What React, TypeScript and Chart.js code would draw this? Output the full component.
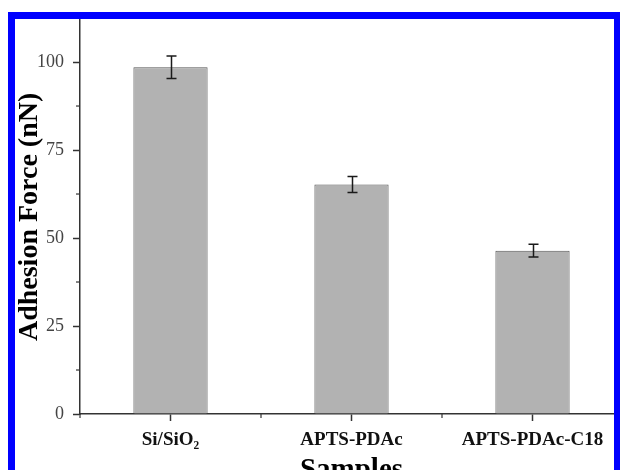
import React, { useEffect, useRef } from 'react';
import { Chart, registerables } from 'chart.js';

Chart.register(...registerables);

const categories = ['Si/SiO₂', 'APTS-PDAc', 'APTS-PDAc-C18'];
const adhesionForce = [98.5, 65.2, 46.4];
const errorValues = [3.2, 2.3, 1.8];
const yTickValues = [0, 25, 50, 75, 100];

const FAMILY = "'Liberation Serif', 'Times New Roman', 'DejaVu Serif', serif";

const extrasPlugin = {
  id: 'extras',
  afterDatasetsDraw(chart: any) {
    const { ctx, scales } = chart;
    const x = scales.x;
    const y = scales.y;
    ctx.save();
    ctx.strokeStyle = '#1a1a1a';
    ctx.lineWidth = 1.5;
    adhesionForce.forEach((v, i) => {
      const px = Math.round(x.getPixelForValue(i)) + 0.5;
      const top = y.getPixelForValue(v + errorValues[i]);
      const bot = y.getPixelForValue(v - errorValues[i]);
      ctx.beginPath();
      ctx.moveTo(px, top);
      ctx.lineTo(px, bot);
      ctx.moveTo(px - 5, top);
      ctx.lineTo(px + 5, top);
      ctx.moveTo(px - 5, bot);
      ctx.lineTo(px + 5, bot);
      ctx.stroke();
    });
    ctx.restore();
  },
  afterDraw(chart: any) {
    const { ctx, scales, chartArea } = chart;
    const x = scales.x;
    const y = scales.y;
    ctx.save();
    ctx.strokeStyle = '#333';
    ctx.lineWidth = 1.2;
    const half = (x.getPixelForValue(1) - x.getPixelForValue(0)) / 2;
    for (let i = 0; i <= categories.length; i++) {
      const px = x.getPixelForValue(0) - half + i * 2 * half;
      ctx.beginPath();
      ctx.moveTo(px, chartArea.bottom);
      ctx.lineTo(px, chartArea.bottom + 4);
      ctx.stroke();
    }
    for (let i = 0; i < yTickValues.length; i++) {
      const next = i + 1 < yTickValues.length ? yTickValues[i + 1] : yTickValues[i] + (yTickValues[1] - yTickValues[0]);
      const mid = (yTickValues[i] + next) / 2;
      if (mid > y.max) continue;
      const py = y.getPixelForValue(mid);
      ctx.beginPath();
      ctx.moveTo(chartArea.left - 4, py);
      ctx.lineTo(chartArea.left, py);
      ctx.stroke();
    }
    ctx.restore();
  },
};

export default function App() {
  const ref = useRef<HTMLCanvasElement | null>(null);

  useEffect(() => {
    if (!ref.current) return;
    const chart = new Chart(ref.current, {
      type: 'bar',
      data: {
        labels: categories,
        datasets: [
          {
            data: adhesionForce,
            backgroundColor: '#b2b2b2',
            borderColor: '#555555',
            borderWidth: 1,
            barPercentage: 0.41,
            categoryPercentage: 1,
          },
        ],
      },
      options: {
        animation: false,
        responsive: false,
        devicePixelRatio: 1,
        layout: { padding: { left: 13, right: 17, top: 19, bottom: 2 } },
        plugins: { legend: { display: false }, tooltip: { enabled: false } },
        scales: {
          x: {
            type: 'category',
            grid: {
              display: true,
              drawOnChartArea: false,
              offset: false,
              tickLength: 7,
              tickColor: '#333',
              tickWidth: 1.5,
            },
            border: { color: '#333', width: 1.5 },
            ticks: {
              color: '#111',
              font: { family: FAMILY, size: 19, weight: 'bold' },
              padding: 8,
              maxRotation: 0,
              autoSkip: false,
            },
            title: {
              display: true,
              text: 'Samples',
              color: '#000',
              font: { family: FAMILY, size: 29, weight: 'bold' },
              padding: 0,
            },
            afterFit: (s: any) => {
              s.height = 74;
            },
          },
          y: {
            min: 0,
            max: 112,
            afterBuildTicks: (s: any) => {
              s.ticks = yTickValues.map((value) => ({ value }));
            },
            grid: {
              display: true,
              drawOnChartArea: false,
              tickLength: 7,
              tickColor: '#333',
              tickWidth: 1.5,
            },
            border: { color: '#333', width: 1.5 },
            ticks: {
              color: '#444',
              font: { family: FAMILY, size: 18 },
              padding: 9,
            },
            title: {
              display: true,
              text: 'Adhesion Force (nN)',
              color: '#000',
              font: { family: FAMILY, size: 28, weight: 'bold' },
              padding: 0,
            },
            afterFit: (s: any) => {
              s.width = 67;
            },
          },
        },
      },
      plugins: [extrasPlugin],
    } as any);
    return () => chart.destroy();
  }, []);

  return (
    <div
      style={{
        position: 'fixed',
        left: 0,
        top: 0,
        width: 620,
        height: 470,
        overflow: 'hidden',
        background: '#fff',
      }}
    >
      <canvas
        ref={ref}
        width={640}
        height={490}
        style={{ position: 'absolute', left: 0, top: 0, width: 640, height: 490, background: '#fff' }}
      />
      <div
        style={{
          position: 'absolute',
          left: 8,
          top: 12,
          width: 612,
          height: 462,
          boxSizing: 'border-box',
          borderTop: '7px solid #0000ff',
          borderLeft: '7px solid #0000ff',
          borderRight: '6px solid #0000ff',
          borderBottom: '3px solid #d6f1fb',
          pointerEvents: 'none',
        }}
      />
    </div>
  );
}
